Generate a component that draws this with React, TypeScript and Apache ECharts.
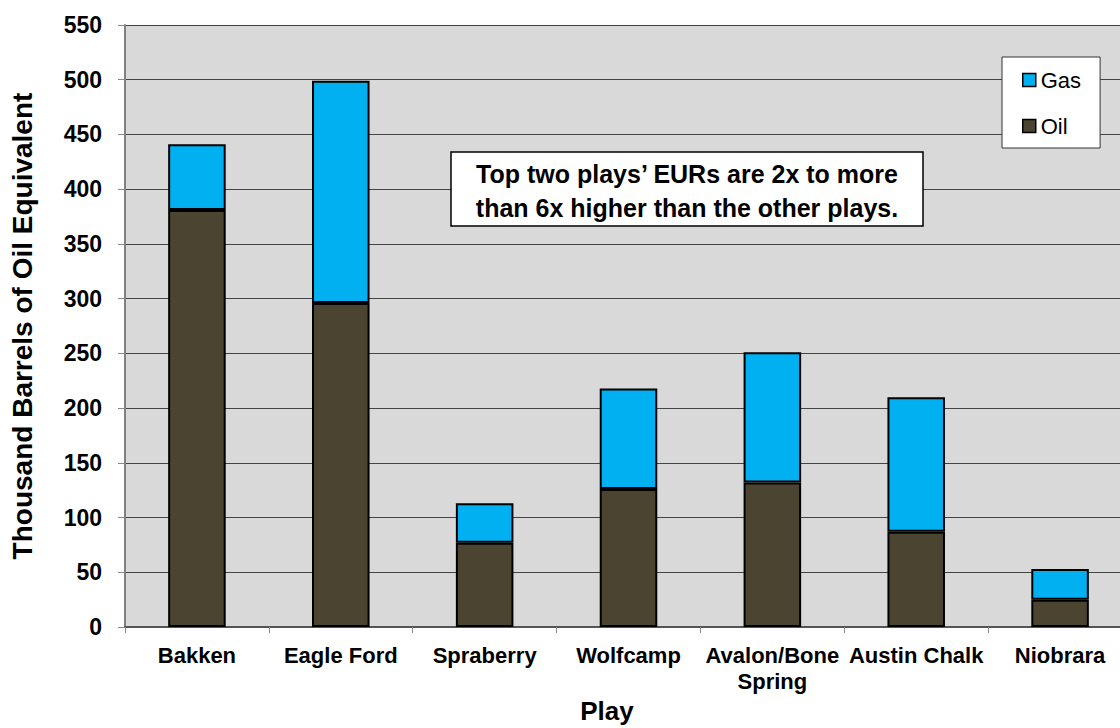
import React, { useEffect, useRef } from "react";
import * as echarts from "echarts";

const categories = ["Bakken", "Eagle Ford", "Spraberry", "Wolfcamp", "Avalon/Bone\nSpring", "Austin Chalk", "Niobrara"];
const oilValues = [381, 296, 77, 126, 132, 87, 25];
const gasValues = [60, 203, 36, 92, 119, 123, 28];
const yTicks = { min: 0, max: 550, interval: 50 };

export default function App() {
  const ref = useRef<HTMLDivElement>(null);
  useEffect(() => {
    if (!ref.current) return;
    const chart = echarts.init(ref.current, undefined, { renderer: "svg" });
    const font = "Arial, 'Liberation Sans', sans-serif";
    chart.setOption({
      animation: false,
      backgroundColor: "#ffffff",
      grid: { left: 124, right: 0, top: 25, bottom: 101, backgroundColor: "#d9d9d9", show: true, borderWidth: 0 },
      legend: {
        data: ["Gas", "Oil"],
        orient: "vertical",
        left: 1002,
        top: 57,
        icon: "rect",
        backgroundColor: "#ffffff",
        borderColor: "#333333",
        borderWidth: 1,
        borderRadius: 0,
        padding: [12, 19, 11, 20],
        itemWidth: 13,
        itemHeight: 13,
        itemGap: 24,
        textStyle: { fontFamily: font, fontSize: 22, color: "#000" },
        itemStyle: { borderColor: "#000", borderWidth: 1.5 },
      },
      xAxis: {
        type: "category",
        data: categories,
        axisLine: { show: true, lineStyle: { color: "#555", width: 2 } },
        axisTick: { show: true, length: 6, lineStyle: { color: "#888", width: 1 } },
        axisLabel: { fontFamily: font, fontWeight: "bold", fontSize: 22, color: "#000", margin: 15, lineHeight: 26, interval: 0 },
      },
      yAxis: {
        type: "value",
        min: yTicks.min,
        max: yTicks.max,
        interval: yTicks.interval,
        axisLine: { show: true, lineStyle: { color: "#808080", width: 2 } },
        axisTick: { show: true, length: 7, lineStyle: { color: "#888", width: 1 } },
        splitLine: { show: true, lineStyle: { color: "#444", width: 1 } },
        axisLabel: { fontFamily: font, fontWeight: "bold", fontSize: 23, color: "#000", margin: 23 },
        name: "Thousand Barrels of Oil Equivalent",
        nameLocation: "middle",
        nameGap: 89,
        nameTextStyle: { fontFamily: font, fontWeight: "bold", fontSize: 28, color: "#000" },
      },
      series: [
        {
          name: "Oil",
          type: "bar",
          stack: "total",
          data: oilValues,
          barWidth: "40%",
          itemStyle: { color: "#4a4430", borderColor: "#000", borderWidth: 2 },
        },
        {
          name: "Gas",
          type: "bar",
          stack: "total",
          data: gasValues,
          barWidth: "40%",
          itemStyle: { color: "#00b0f0", borderColor: "#000", borderWidth: 2 },
        },
      ],
      graphic: [
        {
          type: "rect",
          shape: { x: 451, y: 152, width: 472, height: 74 },
          style: { fill: "#ffffff", stroke: "#000", lineWidth: 1.5 },
          z: 100,
        },
        {
          type: "text",
          x: 687,
          y: 191,
          style: {
            text: "Top two plays\u2019 EURs are 2x to more\nthan 6x higher than the other plays.",
            fontFamily: font,
            fontWeight: "bold",
            fontSize: 25,
            lineHeight: 34,
            fill: "#000",
            align: "center",
            verticalAlign: "middle",
          },
          z: 101,
        },
        {
          type: "text",
          x: 607,
          y: 711,
          style: {
            text: "Play",
            fontFamily: font,
            fontWeight: "bold",
            fontSize: 26,
            fill: "#000",
            align: "center",
            verticalAlign: "middle",
          },
        },
      ],
    });
    return () => chart.dispose();
  }, []);
  return (
    <div style={{ position: "fixed", left: 0, top: 0, width: 1120, height: 728, overflow: "hidden" }}>
      <div ref={ref} style={{ width: 1132, height: 728 }} />
    </div>
  );
}
